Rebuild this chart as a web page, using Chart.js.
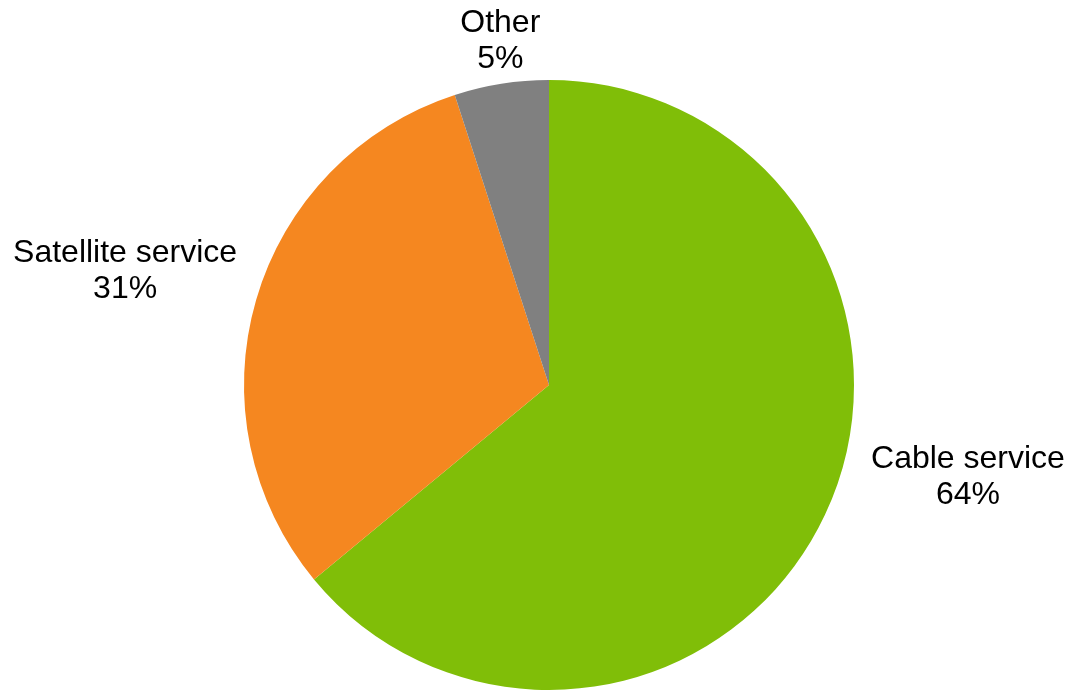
<!DOCTYPE html>
<html>
<head>
<meta charset="utf-8">
<script src="https://cdn.jsdelivr.net/npm/chart.js@4"></script>
<style>
  html, body { margin: 0; padding: 0; background: #fff; }
  #wrap { width: 1072px; height: 690px; }
</style>
</head>
<body>
<div id="wrap"><canvas id="pie-chart"></canvas></div>
<script>
// Data
const categories = ['Cable service', 'Satellite service', 'Other'];
const shares = [64, 31, 5];
const sliceColors = ['#80BE08', '#F58720', '#808080'];

// where each label sits, relative to the outer middle of its slice
const labelShift = [[143, -38], [-131, -29], [-1, -43]];

// Draws the two-line outside labels (name + percent)
const outsideLabels = {
    id: 'outsideLabels',
    afterDatasetsDraw(chart) {
        const ctx = chart.ctx;
        const arcs = chart.getDatasetMeta(0).data;
        ctx.save();
        ctx.font = '32px "Liberation Sans", Arial, sans-serif';
        ctx.fillStyle = '#000';
        ctx.textAlign = 'center';
        ctx.textBaseline = 'middle';
        arcs.forEach((arc, i) => {
            const mid = (arc.startAngle + arc.endAngle) / 2;
            const x = arc.x + Math.cos(mid) * arc.outerRadius + labelShift[i][0];
            const y = arc.y + Math.sin(mid) * arc.outerRadius + labelShift[i][1];
            ctx.fillText(categories[i], x, y - 18);
            ctx.fillText(shares[i] + '%', x, y + 18);
        });
        ctx.restore();
    }
};

new Chart(document.querySelector('#pie-chart').getContext('2d'), {
    type: 'pie',
    data: {
        labels: categories,
        datasets: [{
            data: shares,
            backgroundColor: sliceColors,
            borderWidth: 0
        }]
    },
    options: {
        responsive: true,
        maintainAspectRatio: false,
        animation: false,
        layout: { padding: { top: 80, bottom: 0, left: 26, right: 0 } },
        plugins: {
            legend: { display: false },
            tooltip: { enabled: false }
        }
    },
    plugins: [outsideLabels]
});
</script>
</body>
</html>
